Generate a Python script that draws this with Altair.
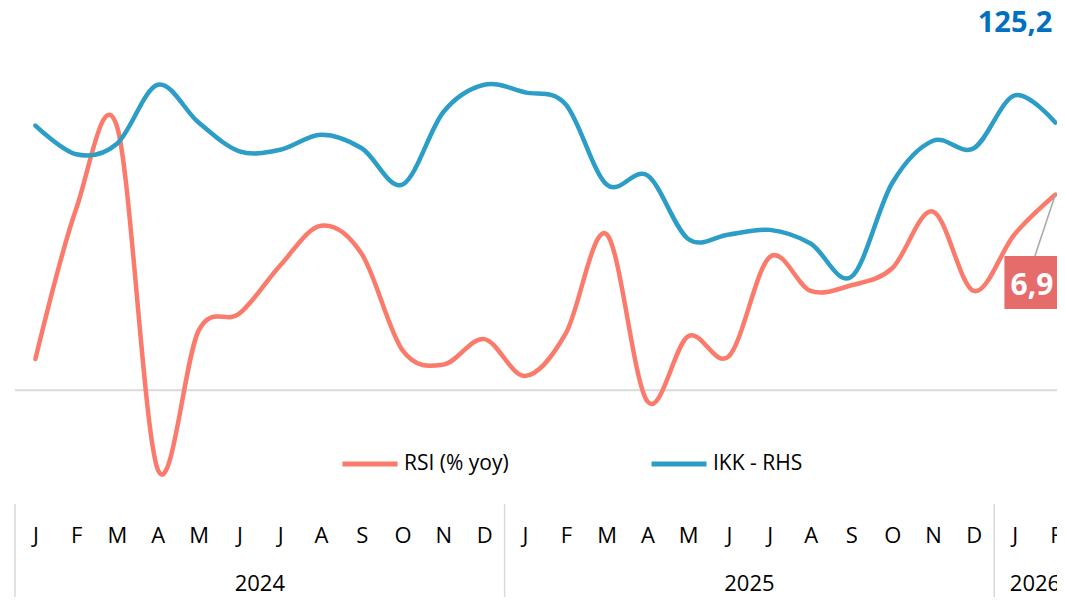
import altair as alt
import pandas as pd

# ---- data ----
months = ["J", "F", "M", "A", "M", "J", "J", "A", "S", "O", "N", "D",
          "J", "F", "M", "A", "M", "J", "J", "A", "S", "O", "N", "D",
          "J", "F"]
years = ["2024", "2025", "2026"]
months_per_year = [12, 12, 2]
rsi = [1.1, 6.4, 9.3, -2.8, 2.1, 2.7, 4.4, 5.8, 4.8, 1.4, 0.9, 1.8,
       0.5, 2.0, 5.5, -0.4, 1.9, 1.2, 4.7, 3.5, 3.7, 4.3, 6.3, 3.5,
       5.5, 6.9]
ikk = [125.0, 123.1, 123.8, 127.7, 125.2, 123.3, 123.4, 124.4, 123.5, 121.1, 125.9, 127.7,
       127.2, 126.4, 121.1, 121.7, 117.5, 117.8, 118.1, 117.2, 115.0, 121.2, 124.0, 123.5,
       127.0, 125.2]
series_names = ["RSI (% yoy)", "IKK - RHS"]
series_colors = ["#FA7B6B", "#2B9DC7"]

idx = list(range(len(months)))
long_df = pd.DataFrame({
    "i": idx * 2,
    "series": [series_names[0]] * len(idx) + [series_names[1]] * len(idx),
    "value": rsi + ikk,
})

# year label centres and group boundaries
pos, bounds, start = [], [], 0
for n in months_per_year:
    pos.append(start + (n - 1) / 2)
    bounds.append(start - 0.5)
    start += n
year_df = pd.DataFrame({"i": pos, "year": years})
sep_df = pd.DataFrame({"i": bounds})
last_df = pd.DataFrame({"i": [idx[-1]], "rsi": [rsi[-1]], "ikk": [ikk[-1]]})

PAD_L = 7
W, H = 1049 - PAD_L, 453.5
STEP = 40.8
FONT = "Open Sans"

x_scale = alt.Scale(domain=[-0.5, -0.5 + W / STEP], nice=False, zero=False)
rsi_scale = alt.Scale(domain=[-4, 12], nice=False, zero=False)
ikk_scale = alt.Scale(domain=[100, 130], nice=False, zero=False)

month_expr = "[" + ",".join(f"'{m}'" for m in months) + "][datum.value]"
x_axis = alt.Axis(values=idx, labelExpr=month_expr, domain=False, ticks=False, tickSize=0,
                  grid=False, title=None, labelFont=FONT, labelFontSize=22,
                  labelColor="#000000", labelPadding=32, labelBaseline="middle",
                  labelAngle=0, labelAlign="center")
X = alt.X("i:Q", scale=x_scale, axis=x_axis)

legend = alt.Legend(orient="none", legendX=325, legendY=384, direction="horizontal",
                    title=None, symbolType="stroke", symbolSize=3025,
                    symbolStrokeWidth=5, labelFont=FONT, labelFontSize=21,
                    labelColor="#000000", labelOffset=4, columnPadding=132, padding=0)
color = alt.Color("series:N", scale=alt.Scale(domain=series_names, range=series_colors),
                  legend=legend)

base = alt.Chart(long_df)

zero_rule = alt.Chart(last_df).mark_rule(color="#D9D9D9", strokeWidth=2).encode(
    x=alt.value(0), x2=alt.value(W),
    y=alt.Y(datum=0, scale=rsi_scale, axis=None),
)

rsi_line = base.transform_filter(alt.datum.series == series_names[0]).mark_line(
    interpolate="cardinal", strokeWidth=4.5, strokeCap="round", strokeJoin="round"
).encode(x=X, y=alt.Y("value:Q", scale=rsi_scale, axis=None), color=color)

ikk_line = base.transform_filter(alt.datum.series == series_names[1]).mark_line(
    interpolate="cardinal", strokeWidth=4.5, strokeCap="round", strokeJoin="round"
).encode(x=X, y=alt.Y("value:Q", scale=ikk_scale, axis=None), color=color)

sep_rules = alt.Chart(sep_df).mark_rule(color="#D9D9D9", strokeWidth=1.5).encode(
    x=X, y=alt.value(H + 0.5), y2=alt.value(H + 120)
)

year_text = alt.Chart(year_df).mark_text(
    font=FONT, fontSize=22, color="#000000", baseline="middle", align="center"
).encode(x=X, y=alt.value(534), text="year:N")

# annotations for last values
last = alt.Chart(last_df).transform_calculate(
    rsi_lbl="replace(format(datum.rsi, '.1f'), '.', ',')",
    ikk_lbl="replace(format(datum.ikk, '.1f'), '.', ',')",
)

ikk_label = last.mark_text(
    font=FONT, fontSize=29, fontWeight="bold", color="#0070C0",
    align="right", baseline="alphabetic", dx=-3
).encode(x=X, y=alt.value(-18.5), text="ikk_lbl:N")

leader = last.mark_rule(color="#A6A6A6", strokeWidth=1.5, x2Offset=-20.5, y2Offset=61.5).encode(
    x=X, x2=alt.X2("i"), y=alt.Y("rsi:Q", scale=rsi_scale, axis=None), y2=alt.Y2("rsi")
)

box = last.mark_rect(color="#E66B6B", xOffset=-51, x2Offset=40, yOffset=61.5, y2Offset=114.5).encode(
    x=X, x2=alt.X2("i"), y=alt.Y("rsi:Q", scale=rsi_scale, axis=None), y2=alt.Y2("rsi")
)

rsi_label = last.mark_text(
    font=FONT, fontSize=30, fontWeight="bold", color="#FFFFFF",
    align="right", baseline="alphabetic", dx=-2, dy=100
).encode(x=X, y=alt.Y("rsi:Q", scale=rsi_scale, axis=None), text="rsi_lbl:N")

chart = alt.layer(
    zero_rule, sep_rules, year_text, rsi_line, ikk_line, ikk_label, leader, box, rsi_label
).resolve_scale(y="independent").properties(
    width=W, height=H,
    padding={"left": PAD_L, "top": 42, "right": 0, "bottom": 589 - 42 - H},
    autosize=alt.AutoSizeParams(type="none"),
    background="#FFFFFF",
).configure_view(stroke=None)

chart.save("out.html", embed_options={"renderer": "svg", "actions": False})
